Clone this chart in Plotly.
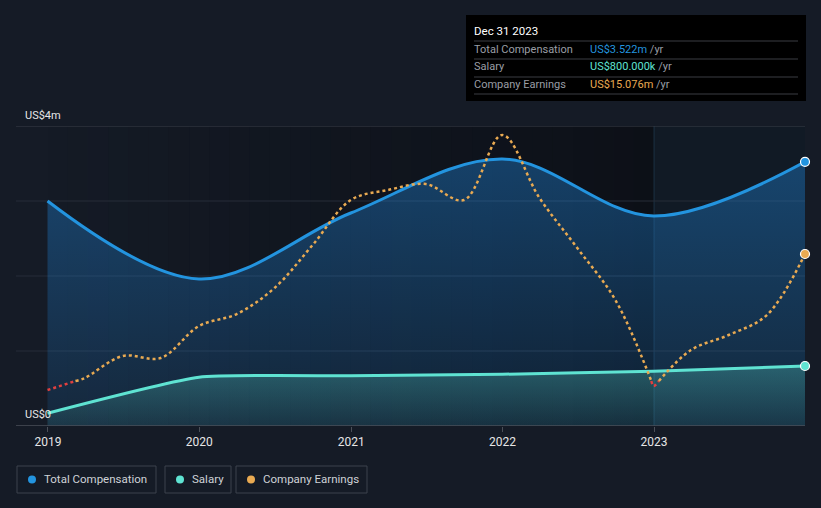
import plotly.graph_objects as go
import pandas as pd
import numpy as np

# ---- data ----
comp_dates = ["2018-12-31", "2019-12-31", "2020-12-31", "2021-12-31", "2022-12-31", "2023-12-31"]
total_comp = [3.00, 1.96, 2.84, 3.56, 2.80, 3.522]   # US$m
salary = [0.17, 0.65, 0.67, 0.69, 0.73, 0.80]        # US$m

earn_dates = ["2018-12-31", "2019-03-31", "2019-06-30", "2019-09-30", "2019-12-31",
              "2020-03-31", "2020-06-30", "2020-09-30", "2020-12-31",
              "2021-03-31", "2021-06-30", "2021-09-30", "2021-12-31",
              "2022-03-31", "2022-06-30", "2022-09-30", "2022-12-31",
              "2023-03-31", "2023-06-30", "2023-09-30", "2023-12-31"]
earnings = [-1.07, 0.36, 2.97, 2.73, 6.53, 7.95, 11.04, 16.14, 21.48,
            22.67, 23.38, 21.48, 29.2, 21.72, 15.79, 9.61, -0.6,
            3.68, 5.46, 7.83, 15.076]                  # US$m

year_ticks = ["2019-01-01", "2020-01-01", "2021-01-01", "2022-01-01", "2023-01-01"]
year_labels = ["2019", "2020", "2021", "2022", "2023"]

BG = "#151b26"
BLUE = "#2394df"
TEAL = "#5fe3d2"
ORANGE = "#e9aa52"
RED = "#e0403f"

L, R, T, B = 16, 16, 126, 82
W, H = 821, 508

def px2x(px):
    return (px - L) / (W - L - R)

def py2y(py):
    return (H - B - py) / (H - T - B)

fig = go.Figure()

# total compensation
fig.add_trace(go.Scatter(
    x=comp_dates, y=total_comp, mode="lines",
    line=dict(color=BLUE, width=3, shape="spline"),
    fill="tozeroy",
    fillgradient=dict(type="vertical",
                      colorscale=[[0, "rgba(33,140,230,0.12)"], [1, "rgba(33,140,230,0.38)"]]),
    hoverinfo="skip", showlegend=False))

# salary
fig.add_trace(go.Scatter(
    x=comp_dates, y=salary, mode="lines",
    line=dict(color=TEAL, width=3, shape="spline", smoothing=0.5),
    fill="tozeroy",
    fillgradient=dict(type="vertical",
                      colorscale=[[0, "rgba(95,227,210,0.08)"], [1, "rgba(95,227,210,0.28)"]]),
    hoverinfo="skip", showlegend=False))

# earnings split into positive (orange) and negative (red) segments
ed = pd.to_datetime(earn_dates)
segs = []
cur_x, cur_y = [ed[0]], [earnings[0]]
cur_neg = earnings[0] < 0
for i in range(1, len(earnings)):
    y0, y1 = earnings[i - 1], earnings[i]
    neg = y1 < 0
    if neg != cur_neg:
        f = y0 / (y0 - y1)
        xc = ed[i - 1] + (ed[i] - ed[i - 1]) * f
        cur_x.append(xc); cur_y.append(0.0)
        segs.append((cur_neg, cur_x, cur_y))
        cur_x, cur_y = [xc], [0.0]
        cur_neg = neg
    cur_x.append(ed[i]); cur_y.append(y1)
segs.append((cur_neg, cur_x, cur_y))

for neg, sx, sy in segs:
    fig.add_trace(go.Scatter(
        x=sx, y=sy, mode="lines", yaxis="y2",
        line=dict(color=RED if neg else ORANGE, width=2.5, dash="dot", shape="spline"),
        hoverinfo="skip", showlegend=False))

# end markers
fig.add_trace(go.Scatter(x=[comp_dates[-1]], y=[total_comp[-1]], mode="markers",
                         marker=dict(color=BLUE, size=9, line=dict(color="white", width=1.2)),
                         hoverinfo="skip", showlegend=False, cliponaxis=False))
fig.add_trace(go.Scatter(x=[comp_dates[-1]], y=[salary[-1]], mode="markers",
                         marker=dict(color=TEAL, size=9, line=dict(color="white", width=1.2)),
                         hoverinfo="skip", showlegend=False, cliponaxis=False))
fig.add_trace(go.Scatter(x=[earn_dates[-1]], y=[earnings[-1]], mode="markers", yaxis="y2",
                         marker=dict(color=ORANGE, size=9, line=dict(color="white", width=1.2)),
                         hoverinfo="skip", showlegend=False, cliponaxis=False))

shapes = []
# darkening gradient from 2019 to 2023
edges = pd.date_range("2018-12-31", "2023-01-01", periods=31)
for k in range(30):
    a = 0.55 * (k + 0.5) / 30
    shapes.append(dict(type="rect", xref="x", yref="paper", x0=edges[k], x1=edges[k + 1],
                       y0=0, y1=1, fillcolor=f"rgba(6,8,12,{a:.3f})", line=dict(width=0), layer="below"))
# highlighted last period
shapes.append(dict(type="rect", xref="x", yref="paper", x0="2023-01-01", x1="2023-12-31",
                   y0=0, y1=1, fillcolor="#111a25", line=dict(width=0), layer="below"))
shapes.append(dict(type="line", xref="x", yref="paper", x0="2023-01-01", x1="2023-01-01",
                   y0=0, y1=1, line=dict(color="rgba(40,80,110,0.45)", width=1), layer="below"))
# gridlines
for v, c in [(1, "#262d38"), (2, "#262d38"), (3, "#262d38"), (4, "#3a3f48")]:
    shapes.append(dict(type="line", xref="paper", yref="y", x0=0, x1=1, y0=v, y1=v,
                       line=dict(color=c, width=1), layer="below"))
shapes.append(dict(type="line", xref="paper", yref="y", x0=0, x1=1, y0=0, y1=0,
                   line=dict(color="#4a4f58", width=1.5), layer="above"))

# tooltip box
shapes.append(dict(type="rect", xref="paper", yref="paper", x0=px2x(466), x1=px2x(806),
                   y0=py2y(101), y1=py2y(15), fillcolor="#000000", line=dict(width=0)))
for yy in [41, 59, 77, 94]:
    shapes.append(dict(type="line", xref="paper", yref="paper", x0=px2x(474), x1=px2x(798),
                       y0=py2y(yy), y1=py2y(yy), line=dict(color="#3a3d42", width=1)))

# legend boxes
legend_items = [("Total Compensation", BLUE, 17, 156), ("Salary", TEAL, 165, 231),
                ("Company Earnings", ORANGE, 236, 367)]
annotations = []
for name, col, x0, x1 in legend_items:
    shapes.append(dict(type="rect", xref="paper", yref="paper", x0=px2x(x0), x1=px2x(x1),
                       y0=py2y(493), y1=py2y(466), fillcolor="rgba(0,0,0,0)",
                       line=dict(color="#3c424c", width=1)))
    shapes.append(dict(type="circle", xref="paper", yref="paper", x0=px2x(x0 + 11), x1=px2x(x0 + 19),
                       y0=py2y(483.5), y1=py2y(475.5), fillcolor=col, line=dict(width=0)))
    annotations.append(dict(xref="paper", yref="paper", x=px2x(x0 + 25), y=py2y(479.5),
                            text=name, showarrow=False, xanchor="left", yanchor="middle",
                            font=dict(color="#cfd2d7", size=11.5)))

# y labels
annotations.append(dict(xref="paper", yref="paper", x=px2x(23), y=py2y(115), text="US$4m",
                        showarrow=False, xanchor="left", yanchor="middle",
                        font=dict(color="#e6e6e6", size=11)))
annotations.append(dict(xref="paper", yref="paper", x=px2x(23), y=py2y(414), text="US$0",
                        showarrow=False, xanchor="left", yanchor="middle",
                        font=dict(color="#e6e6e6", size=11)))

# tooltip texts
annotations.append(dict(xref="paper", yref="paper", x=px2x(472), y=py2y(31), text="Dec 31 2023",
                        showarrow=False, xanchor="left", yanchor="middle",
                        font=dict(color="#ffffff", size=11.5)))
rows = [("Total Compensation", "US$3.522m", "#2394df", 49),
        ("Salary", "US$800.000k", TEAL, 67),
        ("Company Earnings", "US$15.076m", ORANGE, 85)]
for lab, val, col, yy in rows:
    annotations.append(dict(xref="paper", yref="paper", x=px2x(472), y=py2y(yy), text=lab,
                            showarrow=False, xanchor="left", yanchor="middle",
                            font=dict(color="#9a9ea5", size=11)))
    annotations.append(dict(xref="paper", yref="paper", x=px2x(588), y=py2y(yy),
                            text=f"<span style='color:{col}'>{val}</span> <span style='color:#9a9ea5'>/yr</span>",
                            showarrow=False, xanchor="left", yanchor="middle",
                            font=dict(size=11)))

fig.update_layout(
    width=W, height=H,
    margin=dict(l=L, r=R, t=T, b=B),
    paper_bgcolor=BG, plot_bgcolor=BG,
    font=dict(family="Roboto, 'Open Sans', sans-serif"),
    xaxis=dict(type="date", range=["2018-10-16", "2023-12-31"], showgrid=False, zeroline=False,
               tickvals=year_ticks, ticktext=year_labels, ticks="outside", ticklen=5,
               tickcolor="#4a4f58", tickfont=dict(color="#e6e6e6", size=12), showline=False),
    yaxis=dict(range=[0, 4], showgrid=False, zeroline=False, showticklabels=False),
    yaxis2=dict(range=[-5.34, 30.27], overlaying="y", showgrid=False, zeroline=False,
                showticklabels=False),
    shapes=shapes, annotations=annotations,
)

fig.write_html("out.html", config={"displayModeBar": False},
               post_script="document.body.style.margin='0px';document.body.style.background='#151b26';")
